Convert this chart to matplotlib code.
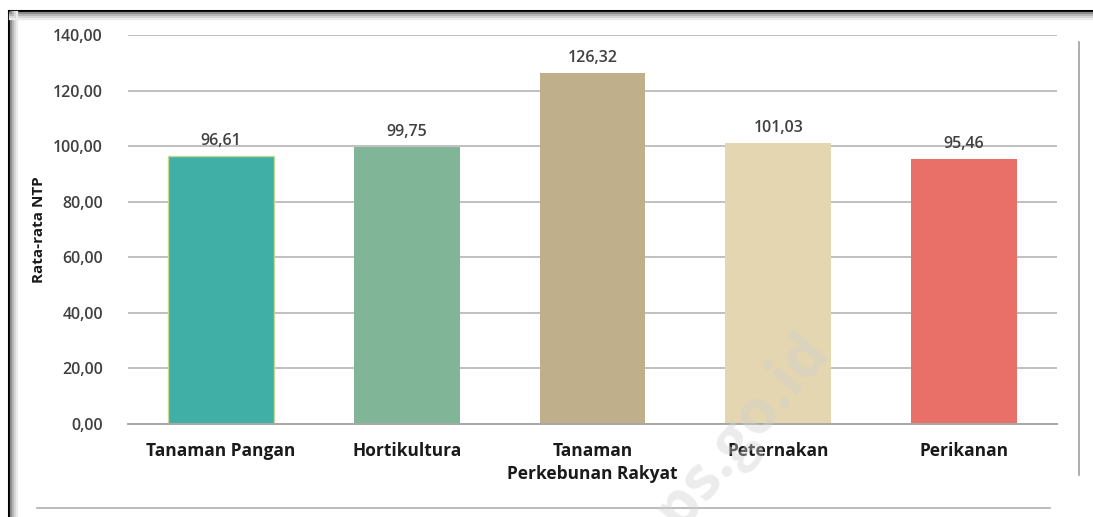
import matplotlib.pyplot as plt
from matplotlib.lines import Line2D

plt.rcParams['font.family'] = ['Open Sans', 'DejaVu Sans']

categories = ["Tanaman Pangan", "Hortikultura", "Tanaman\nPerkebunan Rakyat", "Peternakan", "Perikanan"]
values = [96.61, 99.75, 126.32, 101.03, 95.46]
value_labels = ["96,61", "99,75", "126,32", "101,03", "95,46"]
colors = ["#40B0A6", "#81B598", "#C0AF8B", "#E3D6B0", "#E87068"]
yticks = [0, 20, 40, 60, 80, 100, 120, 140]

fig = plt.figure(figsize=(10.93, 5.17), dpi=100)
W, H = 1093, 517
ax = fig.add_axes([128 / W, 1 - 424 / H, (1057 - 128) / W, (424 - 35) / H])

x = range(len(categories))
bars = ax.bar(x, values, width=0.57, color=colors, zorder=2)
bars[0].set_edgecolor("#C8D890")
bars[0].set_linewidth(1.0)

for xi, v, lab in zip(x, values, value_labels):
    ax.text(xi, v + 2.5, lab, ha="center", va="bottom", fontsize=11.5,
            fontweight="semibold", color="#404040")

ax.set_xlim(-0.5, 4.5)
ax.set_ylim(0, 140)
ax.set_yticks(yticks)
ax.set_yticklabels([f"{t},00" for t in yticks], fontsize=11.5, fontweight="semibold", color="#404040")
ax.set_xticks(list(x))
ax.set_xticklabels(categories, fontsize=12.5, fontweight="bold", color="#1a1a1a", linespacing=1.35)
ax.tick_params(axis="both", length=0)
ax.tick_params(axis="y", pad=18)
ax.tick_params(axis="x", pad=13)
ax.grid(axis="y", color="#C0C0C0", linewidth=1.4, zorder=0)
for s in ["top", "right", "left"]:
    ax.spines[s].set_visible(False)
ax.spines["bottom"].set_color("#A8A8A8")
ax.spines["bottom"].set_linewidth(1.4)
ax.spines["bottom"].set_zorder(3)
ax.set_ylabel("Rata-rata NTP", fontsize=11, fontweight="bold", color="#1a1a1a")
ax.yaxis.set_label_coords(-0.088, 0.5)

# frame lines around the chart
def px(xp, yp):
    return xp / W, 1 - yp / H

fig.add_artist(Line2D(*zip(px(9, 11), px(1093, 11)), color="black", linewidth=2.2))
fig.add_artist(Line2D(*zip(px(9, 11), px(9, 517)), color="black", linewidth=2.2))
for i, c in enumerate(["#8a8a8a", "#b5b5b5", "#d5d5d5", "#ebebeb"]):
    fig.add_artist(Line2D(*zip(px(10, 13 + i * 2), px(1093, 13 + i * 2)), color=c, linewidth=1.6))
    fig.add_artist(Line2D(*zip(px(11 + i * 2, 12), px(11 + i * 2, 517)), color=c, linewidth=1.6))
fig.add_artist(Line2D(*zip(px(37, 508), px(1050, 508)), color="#B0B0B0", linewidth=1.2))
fig.add_artist(Line2D(*zip(px(1079, 42), px(1079, 475)), color="#A0A0A0", linewidth=1.2))

# watermark (partly cut off by the bottom edge, as in the source)
fig.text(730 / W, 1 - 445 / H, "bps.go.id", rotation=50, fontsize=44, fontweight="bold",
         color="#D0D0D0", alpha=0.4, ha="center", va="center", zorder=10)

fig.savefig("out.png", dpi=100)
